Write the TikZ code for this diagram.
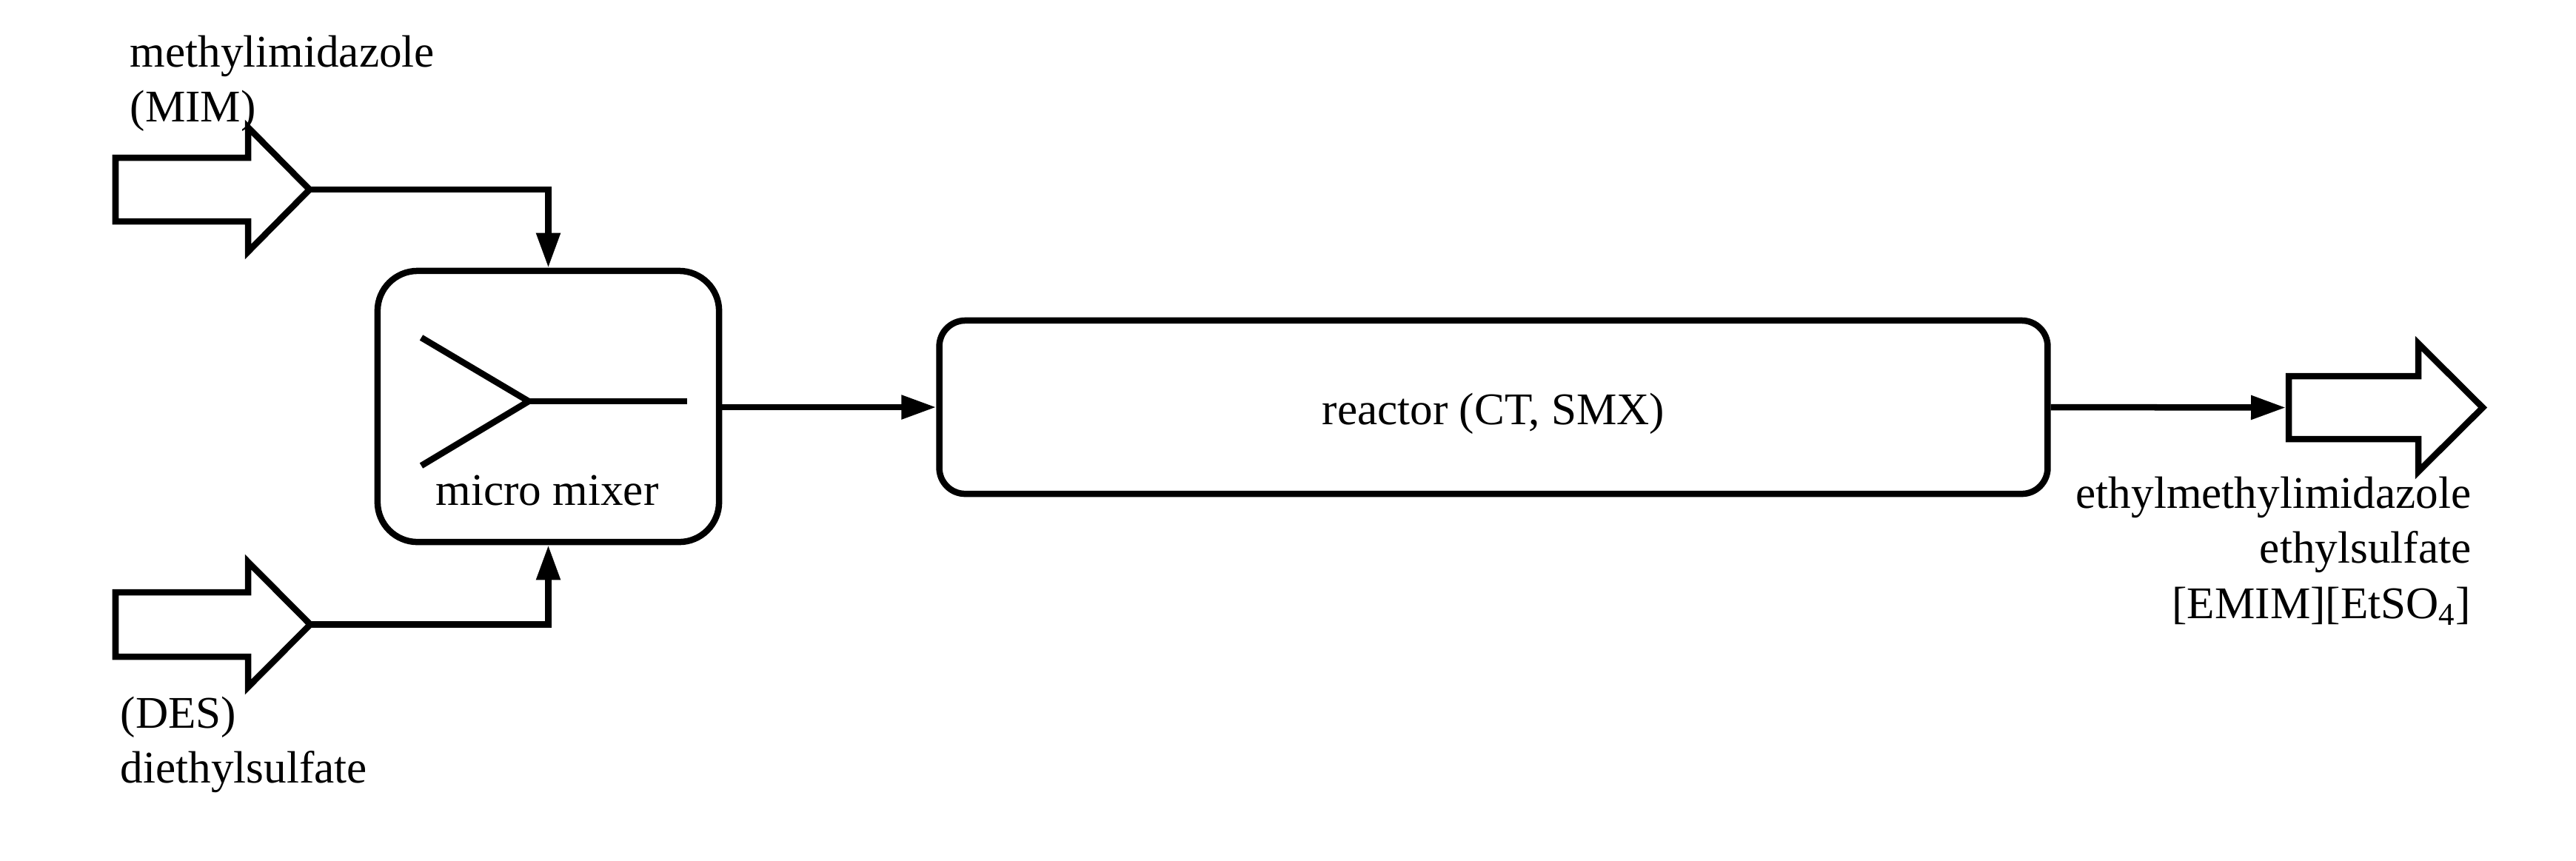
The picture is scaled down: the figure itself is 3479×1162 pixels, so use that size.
\documentclass[tikz,border=0pt]{standalone}
\usepackage{fontspec}
\setmainfont{Liberation Serif}
\usetikzlibrary{arrows.meta}
\begin{document}
\begin{tikzpicture}[x=0.01cm,y=-0.01cm,
  every node/.style={font=\fontsize{17.4pt}{21.2pt}\selectfont, inner sep=0pt},
  lw/.style={line width=0.085cm},
  unitbox/.style={draw, lw, rounded corners=#1},
  flow/.style={lw, -{Triangle[length=0.47cm,width=0.31cm]}},
  blockarrow/.style={draw, lw, miter limit=10}]
\useasboundingbox (0,0) rectangle (3479,1162);

% units
\node[unitbox=0.54cm, minimum width=4.61cm, minimum height=3.66cm] (mixer) at (740.5,549) {};
\node[anchor=base] (mixlabel) at (739,682) {micro mixer};
\node[unitbox=0.35cm, minimum width=14.96cm, minimum height=2.34cm,
      text height=0.66cm, text depth=0.2cm] (reactor) at (2017,550) {reactor (CT, SMX)};

% mixer symbol
\coordinate (yin1) at (569,456);
\coordinate (yin2) at (569,629);
\coordinate (yjoin) at (714,542);
\coordinate (yout) at (928,542);
\draw[lw] (yin1) -- (yjoin) -- (yin2);
\draw[lw] (yjoin) -- (yout);

% feed block arrows
\draw[blockarrow] (156,213) -- (335,213) -- (335,172) -- (418,256) -- (335,340) -- (335,299) -- (156,299) -- cycle;
\coordinate (mimtip) at (418,256);
\draw[blockarrow] (156,800) -- (335,800) -- (335,759) -- (419,843.5) -- (335,928) -- (335,887) -- (156,887) -- cycle;
\coordinate (destip) at (419,843.5);

% product block arrow
\draw[blockarrow] (3091,508) -- (3266,508) -- (3266,464) -- (3353,550.5) -- (3266,637) -- (3266,593) -- (3091,593) -- cycle;
\coordinate (outtail) at (3087,550.5);

% labels
\node[anchor=north west, align=left] (mimlabel) at (175,47) {methylimidazole\\(MIM)};
\node[anchor=north west, align=left] (deslabel) at (162,940) {(DES)\\diethylsulfate};
\node[anchor=north east, align=right] (outlabel) at (3338,643) {ethylmethylimidazole\\ethylsulfate\\{[EMIM][EtSO\textsubscript{4}]}};

% connectors
\draw[flow] (mimtip) -| (mixer.north);
\draw[flow] (destip) -| (mixer.south);
\draw[flow] (mixer.east |- reactor.west) -- (reactor.west);
\draw[flow] (reactor.east) -- (outtail);
\end{tikzpicture}
\end{document}
